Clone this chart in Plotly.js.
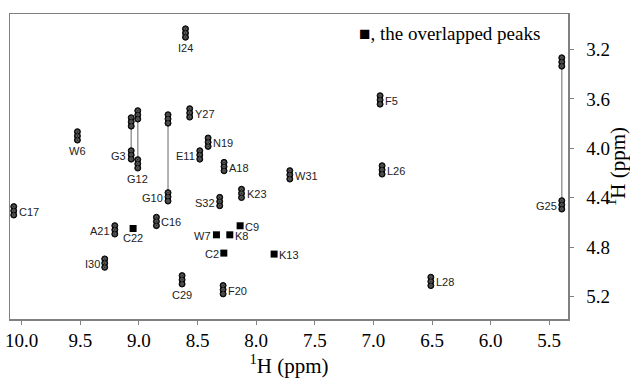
<!DOCTYPE html>
<html>
<head>
<meta charset="utf-8">
<script src="https://cdn.plot.ly/plotly-3.0.1.min.js"></script>
<style>html,body{margin:0;padding:0;background:#fff}#chart{width:630px;height:378px}</style>
</head>
<body>
<div id="chart"></div>
<script>
// Assigned cross peaks (HN, Hα) in ppm
const peakLabels = ['I24','Y27','W6','E11','N19','A18','W31','K23','S32','F5','L26','C17','A21','C16','I30','C29','F20','L28'];
const peakX      = [8.603, 8.567, 9.525, 8.481, 8.410, 8.274, 7.713, 8.125, 8.311, 6.943, 6.926, 10.068, 9.206, 8.851, 9.292, 8.632, 8.282, 6.510];
const peakY      = [3.067, 3.713, 3.899, 4.053, 3.950, 4.147, 4.214, 4.364, 4.430, 3.608, 4.174, 4.505, 4.659, 4.591, 4.928, 5.063, 5.143, 5.076];
const peakSide   = ['below','right','below','left','right','right','right','right','left','right','right','right','left','right','left','below','right','right'];

// Glycines: two Hα peaks joined by a line
const glyLabels = ['G3','G12','G10','G25'];
const glyX      = [9.066, 9.010, 8.752, 5.393];
const glyTopY   = [3.786, 3.729, 3.762, 3.301];
const glyBotY   = [4.053, 4.125, 4.392, 4.457];
const glySide   = ['left','below','left','left'];

// Overlapped peaks (squares)
const sqLabels = ['C22','W7','K8','C9','C2','K13'];
const sqX      = [9.050, 8.339, 8.225, 8.137, 8.276, 7.847];
const sqY      = [4.648, 4.699, 4.699, 4.626, 4.847, 4.855];
const sqSide   = ['below','left','right','right','left','right'];

const xTicks = [10.0, 9.5, 9.0, 8.5, 8.0, 7.5, 7.0, 6.5, 6.0, 5.5];
const yTicks = [3.2, 3.6, 4.0, 4.4, 4.8, 5.2];

const SERIF = "'Liberation Serif', 'Times New Roman', Times, serif";
const SANS = "'Liberation Sans', Arial, Helvetica, sans-serif";
const lobeOffsets = [-0.034, 0, 0.034]; // contour lobes stacked along the Hα axis (ppm)

// all contour peak centres
const allX = peakX.concat(glyX, glyX);
const allY = peakY.concat(glyTopY, glyBotY);
const lobeX = [], lobeY = [];
allX.forEach((x, i) => { lobeOffsets.forEach(d => { lobeX.push(x); lobeY.push(allY[i] + d); }); });

const traces = [];
// glycine connecting lines
glyX.forEach((x, i) => {
  traces.push({x: [x, x], y: [glyTopY[i], glyBotY[i]], mode: 'lines',
    line: {color: '#9a9a9a', width: 1.5}, hoverinfo: 'skip', showlegend: false});
});
traces.push({x: lobeX, y: lobeY, mode: 'markers', showlegend: false, hoverinfo: 'skip',
  marker: {symbol: 'circle', size: 6, color: '#2a2a2a', line: {color: '#000', width: 1}}});
traces.push({x: lobeX, y: lobeY, mode: 'markers', showlegend: false, hoverinfo: 'skip',
  marker: {symbol: 'circle-open', size: 2.5, color: '#7a7a7a', line: {color: '#7a7a7a', width: 0.7}}});
traces.push({x: sqX, y: sqY, mode: 'markers', showlegend: false, hoverinfo: 'skip',
  marker: {symbol: 'square', size: 7, color: '#000'}});

const annotations = [];
function addLabel(text, x, y, side, belowShift) {
  const a = {x: x, y: y, xref: 'x', yref: 'y', text: text, showarrow: false,
    font: {family: SANS, size: 11, color: '#222'}};
  if (side === 'right') { a.xanchor = 'left'; a.xshift = 3; a.yshift = -1; }
  else if (side === 'left') { a.xanchor = 'right'; a.xshift = -3; a.yshift = -1; }
  else { a.xanchor = 'center'; a.yshift = belowShift; }
  annotations.push(a);
}
peakLabels.forEach((t, i) => addLabel(t, peakX[i], peakY[i], peakSide[i], -15));
glyLabels.forEach((t, i) => addLabel(t, glyX[i], glyBotY[i], glySide[i], -15));
sqLabels.forEach((t, i) => addLabel(t, sqX[i], sqY[i], sqSide[i], -9));

annotations.push({xref: 'paper', yref: 'paper', x: 0.622, y: 0.936, xanchor: 'left', yanchor: 'middle',
  text: '\u25A0, the overlapped peaks', showarrow: false,
  font: {family: SERIF, size: 19, color: '#000'}});

const layout = {
  width: 630, height: 378,
  margin: {l: 10, r: 62, t: 14, b: 59},
  paper_bgcolor: '#fff', plot_bgcolor: '#fff',
  font: {family: SERIF, color: '#000'},
  xaxis: {range: [10.1, 5.34], tickvals: xTicks, ticktext: xTicks.map(v => v.toFixed(1)),
    showgrid: false, zeroline: false, showline: true, mirror: true, linecolor: '#808080', linewidth: 1.5,
    ticks: 'outside', ticklen: 4, tickcolor: '#808080', tickfont: {family: SERIF, size: 19},
    title: {text: '<sup>1</sup>H (ppm)', font: {family: SERIF, size: 21}, standoff: 6}},
  yaxis: {range: [5.38, 2.913], side: 'right', tickvals: yTicks, ticktext: yTicks.map(v => v.toFixed(1)),
    showgrid: false, zeroline: false, showline: true, mirror: true, linecolor: '#808080', linewidth: 1.5,
    ticks: 'outside', ticklen: 4, tickcolor: '#808080', tickfont: {family: SERIF, size: 19},
    ticklabelstandoff: 9,
    title: {text: '<sup>1</sup>H (ppm)', font: {family: SERIF, size: 21}, standoff: 4}},
  annotations: annotations,
  showlegend: false
};

Plotly.newPlot('chart', traces, layout, {displayModeBar: false, staticPlot: true});
</script>
</body>
</html>
